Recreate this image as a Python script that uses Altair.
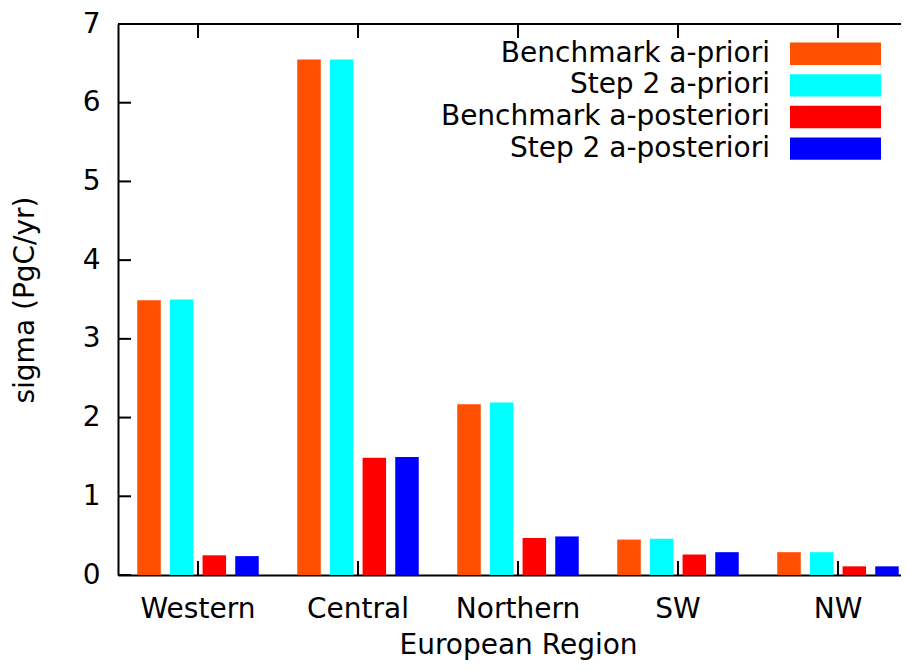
import altair as alt
import pandas as pd

regions = ["Western", "Central", "Northern", "SW", "NW"]
series = ["Benchmark a-priori", "Step 2 a-priori", "Benchmark a-posteriori", "Step 2 a-posteriori"]
colors = ["#FF4F00", "#00FFFF", "#FF0000", "#0000FF"]

bench_prior = [3.49, 6.55, 2.17, 0.45, 0.29]
step2_prior = [3.50, 6.55, 2.19, 0.46, 0.29]
bench_post = [0.25, 1.49, 0.47, 0.26, 0.11]
step2_post = [0.24, 1.50, 0.49, 0.29, 0.11]

y_ticks = [0, 1, 2, 3, 4, 5, 6, 7]

FONT = "DejaVu Sans"
FS = 28
W = 783
H = 551

rows = []
for s, vals in zip(series, [bench_prior, step2_prior, bench_post, step2_post]):
    for r, v in zip(regions, vals):
        rows.append({"region": r, "series": s, "value": v})
df = pd.DataFrame(rows)

x_scale = alt.Scale(domain=regions, range=[0, 800], paddingInner=0, paddingOuter=0)
y_scale = alt.Scale(domain=[0, 7], nice=False, zero=True)

x_axis = alt.Axis(
    title="European Region", labelAngle=0, ticks=False, tickSize=0,
    labelFont=FONT, labelFontSize=FS, labelColor="black", labelPadding=42,
    labelBaseline="alphabetic",
    titleFont=FONT, titleFontSize=FS, titleFontWeight="normal", titleColor="black",
    titleX=400, titleY=78, titleBaseline="alphabetic",
    domainColor="black", domainWidth=2,
)
y_axis = alt.Axis(
    title="sigma (PgC/yr)", values=y_ticks, ticks=False, tickSize=0, grid=False,
    labelFont=FONT, labelFontSize=FS, labelColor="black", labelPadding=18,
    titleFont=FONT, titleFontSize=FS, titleFontWeight="normal", titleColor="black",
    titleX=-85, titleBaseline="alphabetic",
    domainColor="black", domainWidth=2,
)

x_enc = alt.X("region:N", sort=regions, scale=x_scale, axis=x_axis)
y_enc = alt.Y("value:Q", scale=y_scale, axis=y_axis)
color_enc = alt.Color("series:N", sort=series, scale=alt.Scale(domain=series, range=colors), legend=None)

bars = alt.Chart(df).mark_bar().encode(
    x=x_enc,
    xOffset=alt.XOffset("series:N", sort=series,
                        scale=alt.Scale(domain=series, paddingInner=0.28, paddingOuter=0.59)),
    y=y_enc,
    color=color_enc,
)

ytick_df = pd.DataFrame({"value": y_ticks})
left_ticks = alt.Chart(ytick_df).mark_rule(color="black", strokeWidth=2).encode(
    y=y_enc, x=alt.value(0), x2=alt.value(13)
)

xtick_df = pd.DataFrame({"region": regions})
top_ticks = alt.Chart(xtick_df).mark_rule(color="black", strokeWidth=2).encode(
    x=alt.X("region:N", sort=regions, scale=x_scale, axis=x_axis, bandPosition=0.5),
    y=alt.value(0), y2=alt.value(14)
)
bottom_ticks = alt.Chart(xtick_df).mark_rule(color="black", strokeWidth=2).encode(
    x=alt.X("region:N", sort=regions, scale=x_scale, axis=x_axis, bandPosition=0.5),
    y=alt.value(H - 14), y2=alt.value(H)
)
top_border = alt.Chart(pd.DataFrame({"a": [0]})).mark_rule(color="black", strokeWidth=2).encode(
    x=alt.value(0), x2=alt.value(W), y=alt.value(0)
)

main = alt.layer(bars, left_ticks, top_ticks, bottom_ticks, top_border)

leg_df = pd.DataFrame({"series": series})
leg_y = alt.Y("series:N", sort=series,
              scale=alt.Scale(domain=series, range=[14, 140.4], paddingInner=0.29, paddingOuter=0.145),
              axis=None)
leg_rect = alt.Chart(leg_df).mark_bar().encode(
    y=leg_y, x=alt.value(672), x2=alt.value(763), color=color_enc
)
leg_text = alt.Chart(leg_df).mark_text(align="right", baseline="middle", font=FONT, fontSize=FS, color="black").encode(
    y=leg_y, x=alt.value(652), text="series:N"
)
legend = alt.layer(leg_rect, leg_text)

chart = alt.layer(main, legend).resolve_scale(y="independent").properties(
    width=W, height=H,
    autosize=alt.AutoSizeParams(type="none"),
    padding={"left": 110, "top": 16, "right": 0, "bottom": 88},
).configure_view(stroke=None)

chart.save("out.html", embed_options={"renderer": "svg", "actions": False})
